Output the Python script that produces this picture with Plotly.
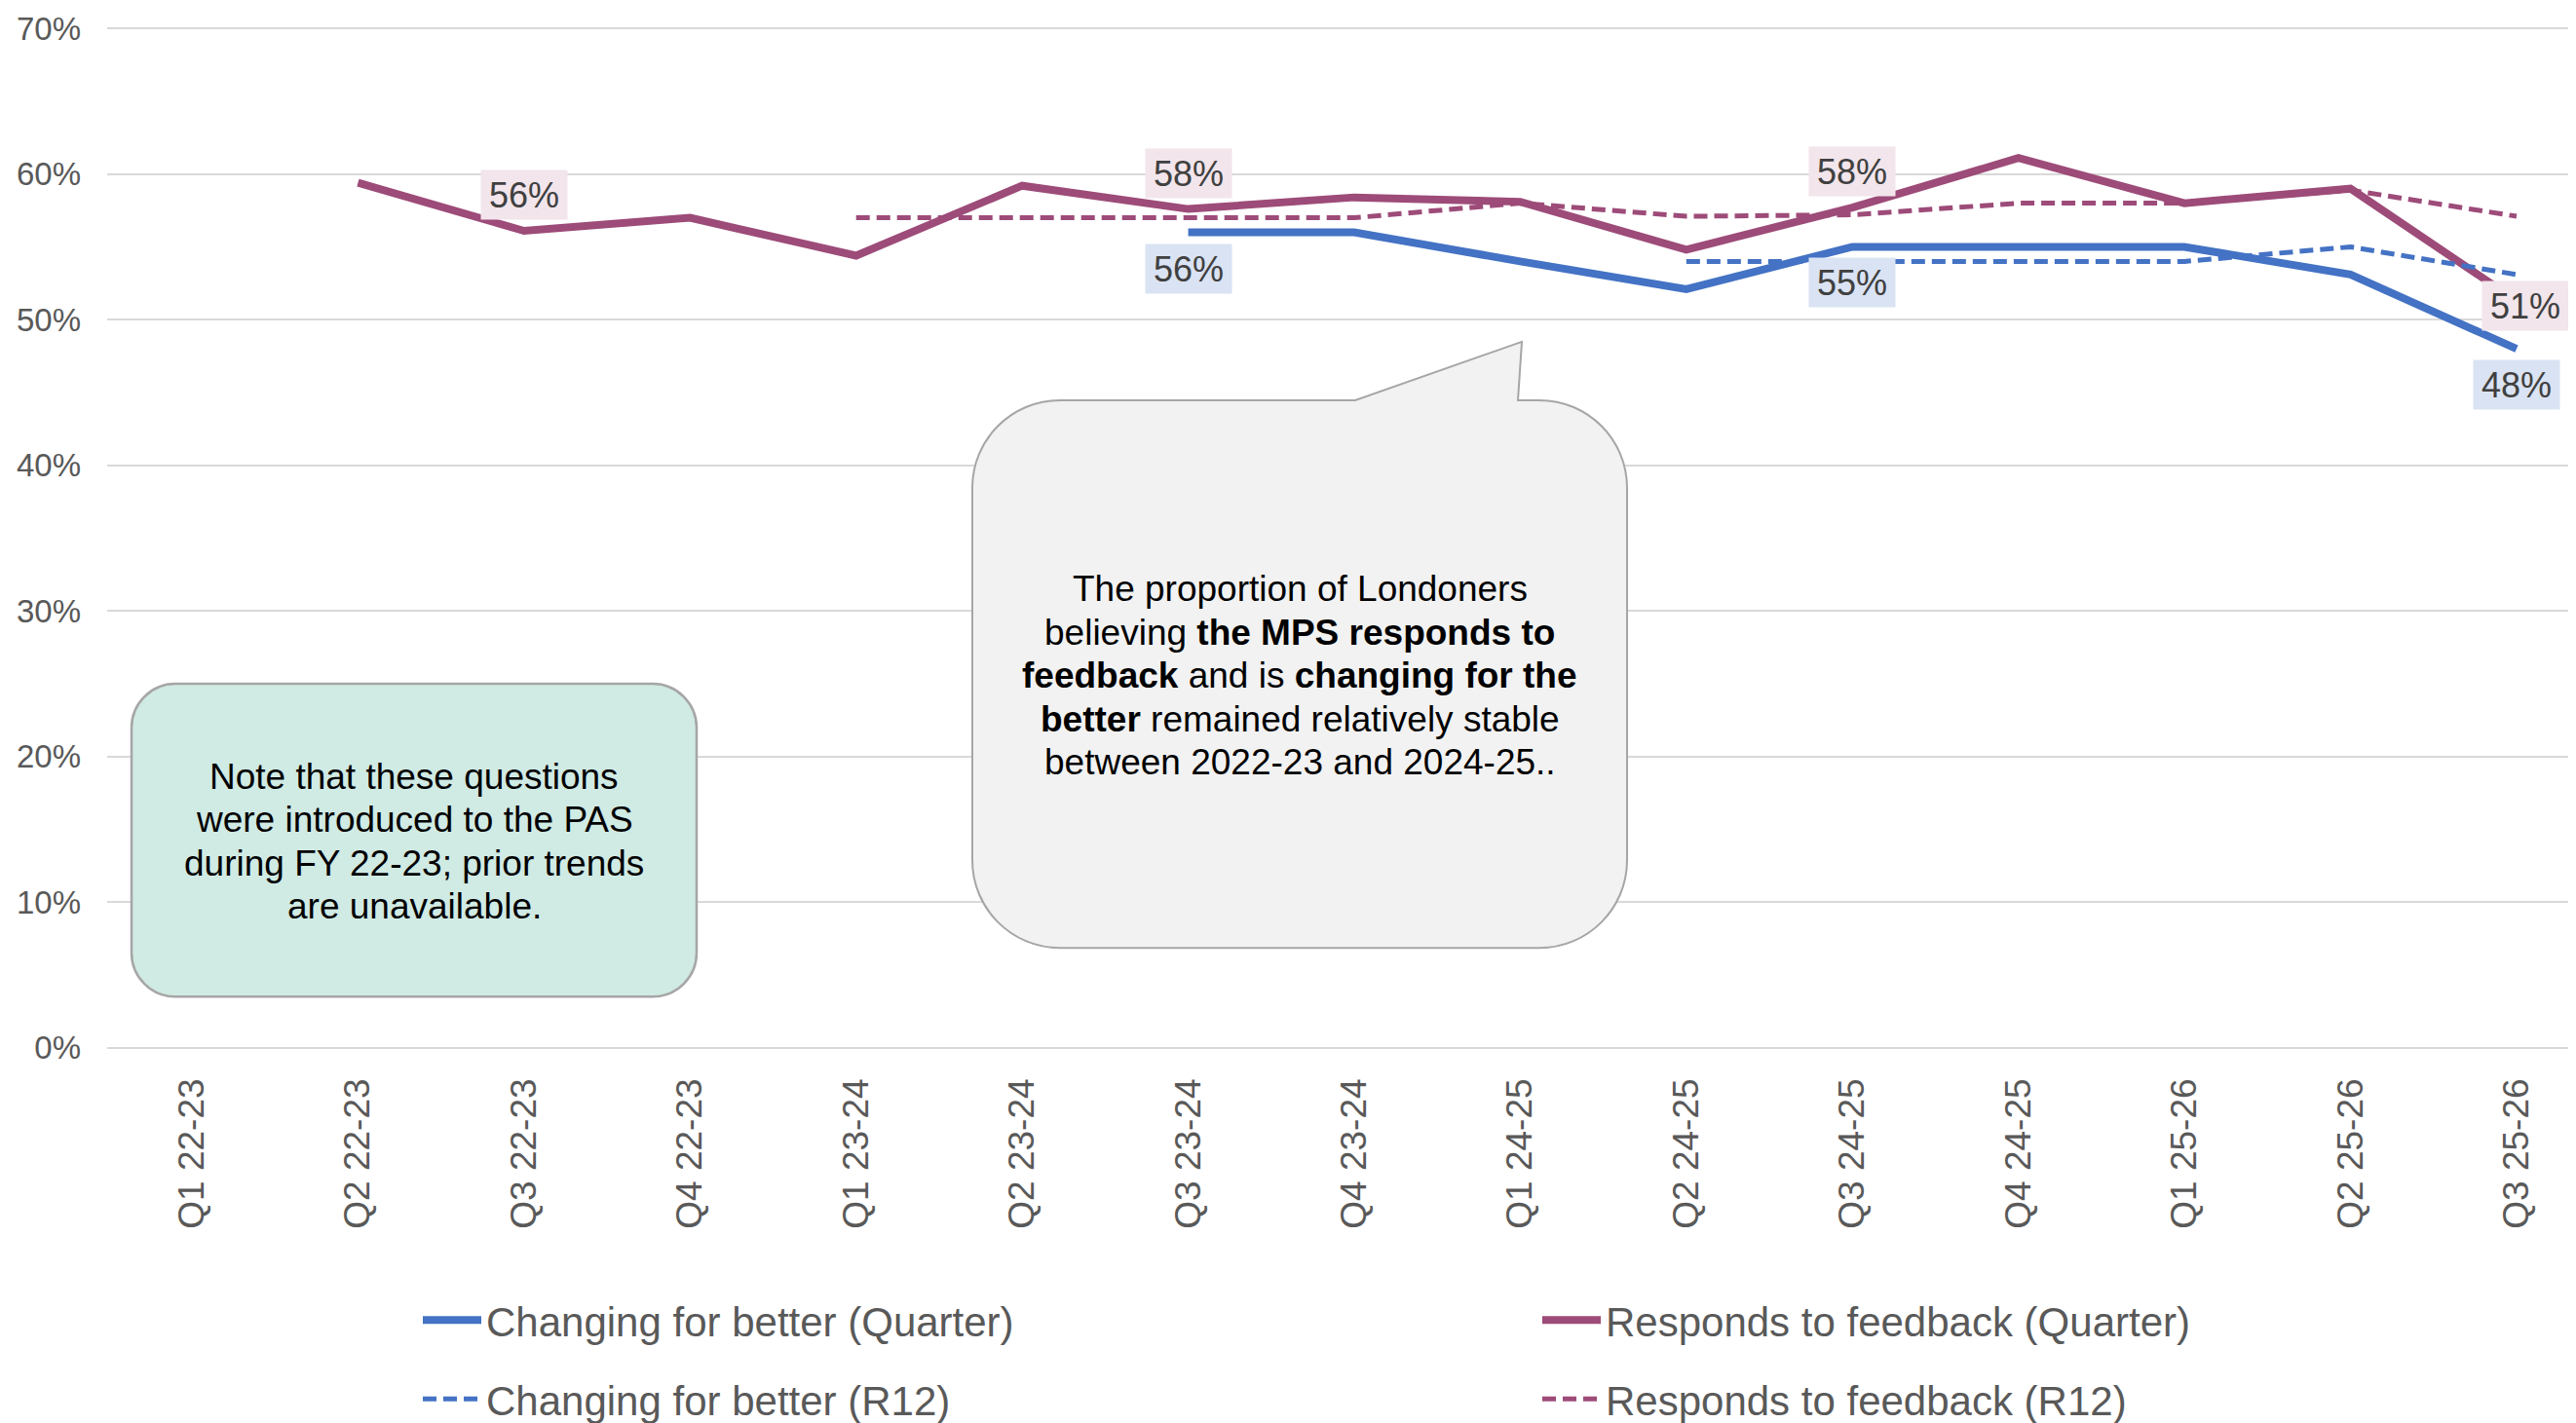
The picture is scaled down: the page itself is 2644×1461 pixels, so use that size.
import plotly.graph_objects as go

# ---------------- data ----------------
categories = ["Q1 22-23", "Q2 22-23", "Q3 22-23", "Q4 22-23", "Q1 23-24", "Q2 23-24",
              "Q3 23-24", "Q4 23-24", "Q1 24-25", "Q2 24-25", "Q3 24-25", "Q4 24-25",
              "Q1 25-26", "Q2 25-26", "Q3 25-26"]
changing_quarter = [None, None, None, None, None, None,
                    0.560, 0.560, 0.540, 0.521, 0.550, 0.550, 0.550, 0.531, 0.480]
responds_quarter = [None, 0.594, 0.561, 0.570, 0.544, 0.592,
                    0.576, 0.584, 0.581, 0.548, 0.577, 0.611, 0.580, 0.590, 0.513]
changing_r12 = [None, None, None, None, None, None, None, None, None,
                0.540, 0.540, 0.540, 0.540, 0.550, 0.531]
responds_r12 = [None, None, None, None,
                0.570, 0.570, 0.570, 0.570, 0.580, 0.571, 0.572, 0.580, 0.580, 0.589, 0.571]
y_ticks = [0, 0.1, 0.2, 0.3, 0.4, 0.5, 0.6, 0.7]
responds_label_idx = [2, 6, 10, 14]
changing_label_idx = [6, 10, 14]

note_lines = ["Note that these questions", "were introduced to the PAS",
              "during FY 22-23; prior trends", "are unavailable."]
callout_lines = ["The proportion of Londoners",
                 "believing <b>the MPS responds to</b>",
                 "<b>feedback</b> and is <b>changing for the</b>",
                 "<b>better</b> remained relatively stable",
                 "between 2022-23 and 2024-25.."]

# ---------------- style / geometry (reference pixel coordinates) ----------------
OFF = 8                      # default page body margin
W, H = 2644 - OFF, 1461 - OFF
PLOT_L, PLOT_R = 110, 2644
PLOT_T, PLOT_B = 28.3, 1076.7
L, R = PLOT_L - OFF, 0
T, B = PLOT_T - OFF, H - (PLOT_B - OFF)
FONT = "Liberation Sans, Arial, sans-serif"
BLUE = "#4472C4"
PURPLE = "#9D4B79"
GREY_TXT = "#595959"


def fx(px):
    return (px - PLOT_L) / (PLOT_R - PLOT_L)


def fy(py):
    return (PLOT_B - py) / (PLOT_B - PLOT_T)


fig = go.Figure()
fig.add_trace(go.Scatter(x=categories, y=changing_quarter, mode="lines",
                         name="Changing for better (Quarter)",
                         line=dict(color=BLUE, width=8), legend="legend"))
fig.add_trace(go.Scatter(x=categories, y=responds_quarter, mode="lines",
                         name="Responds to feedback (Quarter)",
                         line=dict(color=PURPLE, width=8), legend="legend"))
fig.add_trace(go.Scatter(x=categories, y=changing_r12, mode="lines",
                         name="Changing for better (R12)",
                         line=dict(color=BLUE, width=5, dash="14px,7px"), legend="legend2"))
fig.add_trace(go.Scatter(x=categories, y=responds_r12, mode="lines",
                         name="Responds to feedback (R12)",
                         line=dict(color=PURPLE, width=5, dash="14px,7px"), legend="legend2"))

# data labels
for i in responds_label_idx:
    v = responds_quarter[i]
    last = i == len(categories) - 1
    fig.add_annotation(x=categories[i], y=v, xref="x", yref="y", text=f"{round(v * 100)}%",
                       showarrow=False, bgcolor="#F2E5EB", width=88, height=50, borderpad=0,
                       font=dict(family=FONT, size=36, color="#404040"),
                       yshift=(-5 if last else 37), xshift=(9 if last else 0))
for i in changing_label_idx:
    v = changing_quarter[i]
    fig.add_annotation(x=categories[i], y=v, xref="x", yref="y", text=f"{round(v * 100)}%",
                       showarrow=False, bgcolor="#DAE3F3", width=88, height=50, borderpad=0,
                       font=dict(family=FONT, size=36, color="#404040"),
                       yshift=-37)


def rounded_path(x0, y0, x1, y1, r, tail=None):
    k = 0.5523 * r
    pts = [("M", [(x0 + r, y0)])]
    if tail:
        for p in tail:
            pts.append(("L", [p]))
    pts.append(("L", [(x1 - r, y0)]))
    pts.append(("C", [(x1 - r + k, y0), (x1, y0 + r - k), (x1, y0 + r)]))
    pts.append(("L", [(x1, y1 - r)]))
    pts.append(("C", [(x1, y1 - r + k), (x1 - r + k, y1), (x1 - r, y1)]))
    pts.append(("L", [(x0 + r, y1)]))
    pts.append(("C", [(x0 + r - k, y1), (x0, y1 - r + k), (x0, y1 - r)]))
    pts.append(("L", [(x0, y0 + r)]))
    pts.append(("C", [(x0, y0 + r - k), (x0 + r - k, y0), (x0 + r, y0)]))
    s = ""
    for cmd, ps in pts:
        s += cmd + " ".join(f"{fx(px):.5f},{fy(py):.5f}" for px, py in ps) + " "
    return s + "Z"


# note box
fig.add_shape(type="path", xref="paper", yref="paper",
              path=rounded_path(135, 702, 715, 1023, 45),
              fillcolor="#D0EAE4", line=dict(color="#A6A6A6", width=2.5), layer="above")
note_centers = [797, 841.5, 886, 930.5]
for txt, cy in zip(note_lines, note_centers):
    fig.add_annotation(x=fx(425), y=fy(cy), xref="paper", yref="paper", text=txt,
                       showarrow=False, align="center", xanchor="center", yanchor="middle",
                       font=dict(family=FONT, size=37, color="#000000"))

# callout bubble
fig.add_shape(type="path", xref="paper", yref="paper",
              path=rounded_path(998, 411, 1670, 973, 90,
                                tail=[(1391, 411), (1562, 351), (1558, 411)]),
              fillcolor="#F2F2F2", line=dict(color="#A6A6A6", width=2), layer="above")
callout_centers = [604, 649, 693.5, 738, 782.5]
for txt, cy in zip(callout_lines, callout_centers):
    fig.add_annotation(x=fx(1334), y=fy(cy), xref="paper", yref="paper", text=txt,
                       showarrow=False, align="center", xanchor="center", yanchor="middle",
                       font=dict(family=FONT, size=37, color="#000000"))

fig.update_layout(
    width=W, height=H,
    margin=dict(l=L, r=R, t=T, b=B, autoexpand=False),
    paper_bgcolor="white", plot_bgcolor="white",
    font=dict(family=FONT, color=GREY_TXT),
    xaxis=dict(type="category", categoryorder="array", categoryarray=categories,
               range=[-0.5105, 14.358], tickangle=-90, showgrid=False, zeroline=False,
               showline=False, ticks="", ticklabelstandoff=22,
               tickfont=dict(family=FONT, size=37, color=GREY_TXT)),
    yaxis=dict(range=[-0.0008, 0.7008], tickvals=y_ticks, tickformat=".0%", showgrid=True,
               gridcolor="#D9D9D9", gridwidth=2, zeroline=False, showline=False,
               ticks="", ticklabelstandoff=26,
               tickfont=dict(family=FONT, size=33, color=GREY_TXT)),
    legend=dict(orientation="h", x=fx(429), y=fy(1355), xanchor="left", yanchor="middle",
                entrywidth=1074, entrywidthmode="pixels", itemwidth=60,
                font=dict(family=FONT, size=42, color=GREY_TXT), bgcolor="rgba(0,0,0,0)"),
    legend2=dict(orientation="h", x=fx(429), y=fy(1436), xanchor="left", yanchor="middle",
                 entrywidth=1074, entrywidthmode="pixels", itemwidth=60,
                 font=dict(family=FONT, size=42, color=GREY_TXT), bgcolor="rgba(0,0,0,0)"),
    showlegend=True,
)

fig.write_html("out.html")
